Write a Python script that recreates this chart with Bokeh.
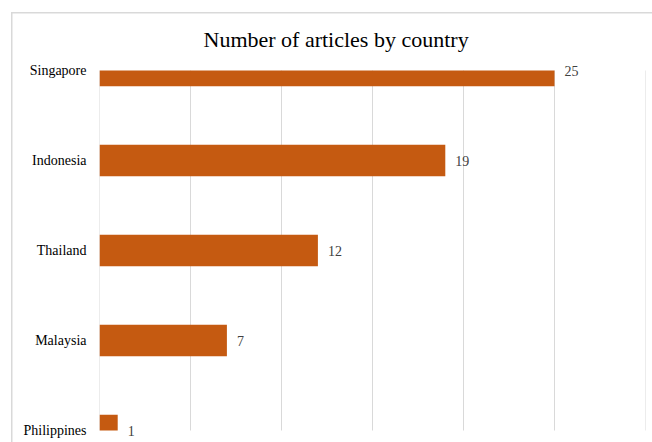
from bokeh.plotting import figure
from bokeh.models import (Range1d, FixedTicker, LabelSet, ColumnDataSource, Title)
from bokeh.embed import file_html
from bokeh.resources import INLINE

countries = ["Philippines", "Malaysia", "Thailand", "Indonesia", "Singapore"]
articles = [1, 7, 12, 19, 25]
x_ticks = [0, 5, 10, 15, 20, 25, 30]

n = len(countries)
ypos = list(range(n))
half = 0.35 / 2
lo, hi = 0, n - 1
src = ColumnDataSource(dict(
    y=ypos, v=articles, lab=[str(a) for a in articles],
    bot=[max(y - half, lo) for y in ypos],
    top=[min(y + half, hi) for y in ypos],
))
grid_src = ColumnDataSource(dict(x=x_ticks, y0=[lo] * len(x_ticks),
                                 y1=[hi] * len(x_ticks)))

W, H = 652, 442
p = figure(width=W, height=H, output_backend="svg", toolbar_location=None,
           x_range=Range1d(0, 30), y_range=Range1d(lo - 0.1222, hi + 0.1556),
           min_border_left=99, min_border_right=7, min_border_top=56,
           min_border_bottom=1)
p.title = Title(text="Number of articles by country", align="left", offset=104,
                text_font="Liberation Serif", text_font_size="22px",
                text_font_style="normal", text_color="#000000", standoff=10)
p.outline_line_color = None
p.background_fill_color = "white"
p.border_fill_color = None
p.xgrid.grid_line_color = None
p.ygrid.grid_line_color = None

# chart-area border (only its top and left edges fall inside the picture)
p.styles = {
    "background-color": "white",
    "background-image": "linear-gradient(#d9d9d9, #d9d9d9), linear-gradient(#d9d9d9, #d9d9d9)",
    "background-size": "1.5px 100%, 100% 1.5px",
    "background-position": "11px 12px, 11px 12px",
    "background-repeat": "no-repeat",
}

p.segment(x0="x", x1="x", y0="y0", y1="y1", source=grid_src,
          line_color="#d9d9d9", line_width=1)
p.quad(left=0, right="v", bottom="bot", top="top", source=src,
       fill_color="#C55A11", line_color=None)

labels = LabelSet(x="v", y="y", text="lab", source=src, x_offset=10,
                  text_baseline="middle", text_align="left",
                  text_font="Open Sans", text_font_size="14px",
                  text_color="#404040")
p.add_layout(labels)

p.xaxis.visible = False
p.yaxis.ticker = FixedTicker(ticks=ypos)
p.yaxis.major_label_overrides = {i: c for i, c in zip(ypos, countries)}
p.yaxis.axis_line_color = None
p.yaxis.major_tick_line_color = None
p.yaxis.minor_tick_line_color = None
p.yaxis.major_tick_out = 0
p.yaxis.major_tick_in = 0
p.yaxis.major_label_standoff = 13
p.yaxis.major_label_text_font = "Liberation Serif"
p.yaxis.major_label_text_font_size = "14px"
p.yaxis.major_label_text_color = "#000000"

open("out.html", "w").write(file_html(p, INLINE))
